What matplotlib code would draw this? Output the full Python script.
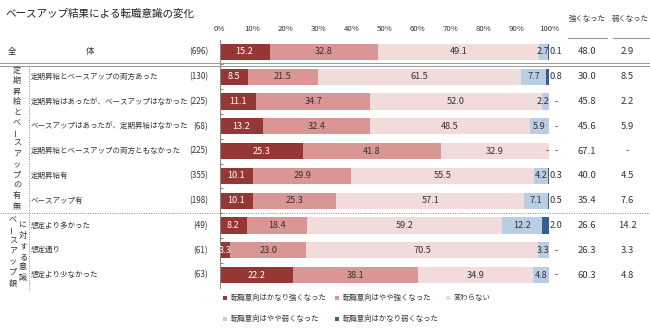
import matplotlib
matplotlib.use('Agg')
import matplotlib.pyplot as plt
import matplotlib.transforms as mtransforms
from matplotlib.lines import Line2D
from matplotlib.patches import Rectangle

plt.rcParams['font.family'] = ['Noto Sans CJK JP', 'DejaVu Sans']

# data
categories = ['全体',
              '定期昇給とベースアップの両方あった',
              '定期昇給はあったが、ベースアップはなかった',
              'ベースアップはあったが、定期昇給はなかった',
              '定期昇給とベースアップの両方ともなかった',
              '定期昇給有',
              'ベースアップ有',
              '想定より多かった',
              '想定通り',
              '想定より少なかった']
counts = [696, 130, 225, 68, 225, 355, 198, 49, 61, 63]
much_stronger = [15.2, 8.5, 11.1, 13.2, 25.3, 10.1, 10.1, 8.2, 3.3, 22.2]
bit_stronger = [32.8, 21.5, 34.7, 32.4, 41.8, 29.9, 25.3, 18.4, 23.0, 38.1]
unchanged = [49.1, 61.5, 52.0, 48.5, 32.9, 55.5, 57.1, 59.2, 70.5, 34.9]
bit_weaker = [2.7, 7.7, 2.2, 5.9, 0, 4.2, 7.1, 12.2, 3.3, 4.8]
much_weaker = [0.1, 0.8, 0, 0, 0, 0.3, 0.5, 2.0, 0, 0]
stronger_total = [48.0, 30.0, 45.8, 45.6, 67.1, 40.0, 35.4, 26.6, 26.3, 60.3]
weaker_total = [2.9, 8.5, 2.2, 5.9, 0, 4.5, 7.6, 14.2, 3.3, 4.8]
series_names = ['転職意向はかなり強くなった', '転職意向はやや強くなった', '変わらない',
                '転職意向はやや弱くなった', '転職意向はかなり弱くなった']
colors = ['#953735', '#d99694', '#f2dcdb', '#b9cde5', '#376092']
group1 = '定期昇給とベースアップの有無'
group2a = 'ベースアップ額'
group2b = 'に対する意識'

W, H = 650, 331
fig = plt.figure(figsize=(6.5, 3.31), dpi=100)
ax = fig.add_axes([219.5 / W, 1 - 288 / H, 329.5 / W, 248 / H])
txt = '#333333'
vfs = 6.6  # value font size

series = [much_stronger, bit_stronger, unchanged, bit_weaker, much_weaker]
ypos = list(range(len(categories)))
left = [0.0] * len(categories)
for k, vals in enumerate(series):
    ax.barh(ypos, vals, left=left, height=0.65, color=colors[k], edgecolor='none')
    for i, v in enumerate(vals):
        c = left[i] + v / 2
        if k < 3:
            ax.text(c, i, f'{v:.1f}', ha='center', va='center', fontsize=vfs,
                    color='white' if k == 0 else txt)
        elif k == 3:
            if v > 0:
                ax.text(min(c, 98.2), i, f'{v:.1f}', ha='center', va='center',
                        fontsize=vfs, color=txt)
            else:
                ax.text(99.5, i, '-', ha='center', va='center', fontsize=vfs, color=txt)
        else:
            if v > 0:
                ax.text(100.3, i, f'{v:.1f}', ha='left', va='center', fontsize=vfs, color=txt)
            else:
                ax.text(102.2, i, '-', ha='center', va='center', fontsize=vfs, color=txt)
    left = [a + b for a, b in zip(left, vals)]

ax.set_xlim(0, 100)
ax.set_ylim(9.52, -0.48)
ax.xaxis.tick_top()
ax.set_xticks(range(0, 101, 10))
ax.set_xticklabels([f'{t}%' for t in range(0, 101, 10)], fontsize=5.6, color=txt)
ax.tick_params(axis='x', length=0, pad=5)
ax.set_yticks([i + 0.5 for i in range(len(categories) - 1)])
ax.set_yticklabels([])
ax.tick_params(axis='y', direction='in', length=2, color='#888888')
for s in ['top', 'right', 'bottom']:
    ax.spines[s].set_visible(False)
ax.spines['left'].set_color('#888888')
ax.spines['left'].set_linewidth(0.8)

# row labels in figure-x / data-y coordinates
tr = mtransforms.blended_transform_factory(fig.transFigure, ax.transData)
for i, (cat, n) in enumerate(zip(categories, counts)):
    if i == 0:
        fig.text(12 / W, i, '全', transform=tr, ha='center', va='center', fontsize=6, color=txt)
        fig.text(90 / W, i, '体', transform=tr, ha='center', va='center', fontsize=6, color=txt)
    else:
        fig.text(31 / W, i, cat, transform=tr, ha='left', va='center', fontsize=5.4, color=txt)
    fig.text(208 / W, i, f'({n})', transform=tr, ha='right', va='center', fontsize=5.8, color=txt)
    fig.text(587 / W, i, f'{stronger_total[i]:.1f}', transform=tr, ha='center', va='center',
             fontsize=6.8, color=txt)
    w = weaker_total[i]
    fig.text(627 / W, i, f'{w:.1f}' if w > 0 else '-', transform=tr, ha='center', va='center',
             fontsize=6.8, color=txt)

# right column headers
fig.text(587 / W, 1 - 19 / H, '強くなった', ha='center', va='center', fontsize=5.3, color=txt)
fig.text(630 / W, 1 - 19 / H, '弱くなった', ha='center', va='center', fontsize=5.3, color=txt)
fig.add_artist(Line2D([568 / W, 607 / W], [1 - 38 / H] * 2, color='#999999', lw=0.8))
fig.add_artist(Line2D([613 / W, 649 / W], [1 - 38 / H] * 2, color='#999999', lw=0.8))

# title
fig.text(5 / W, 1 - 14 / H, 'ベースアップ結果による転職意識の変化', ha='left', va='center',
         fontsize=7.6, color='#222222')

# separators
for yy in (63, 65.5):
    fig.add_artist(Line2D([0, 1], [1 - yy / H] * 2, color='#999999', lw=0.7))
fig.add_artist(Line2D([0, 1], [1 - 213 / H] * 2, color='#888888', lw=0.7, ls=(0, (1, 1.5))))
fig.add_artist(Line2D([29 / W, 29 / W], [1 - 66 / H, 1 - 290 / H], color='#888888', lw=0.7,
                      ls=(0, (1, 1.5))))


def vertical(text, x, y0, step=10.5):
    for j, ch in enumerate(text):
        rot = 90 if ch == 'ー' else 0
        fig.text(x / W, 1 - (y0 + j * step) / H, ch, ha='center', va='center',
                 rotation=rot, fontsize=5.8, color=txt)


vertical(group1, 17, 70)
vertical(group2a, 13, 220)
vertical(group2b, 23, 225)

# legend
legend_pos = [(225, 298), (337, 298), (448, 298), (225, 319), (337, 319)]
for name, col, (lx, ly) in zip(series_names, colors, legend_pos):
    fig.add_artist(Rectangle(((lx - 2.2) / W, 1 - (ly + 2.2) / H), 4.4 / W, 4.4 / H,
                             transform=fig.transFigure, color=col, lw=0))
    fig.text((lx + 6) / W, 1 - ly / H, name, ha='left', va='center', fontsize=5.3, color=txt)

fig.savefig('out.png', dpi=100)
